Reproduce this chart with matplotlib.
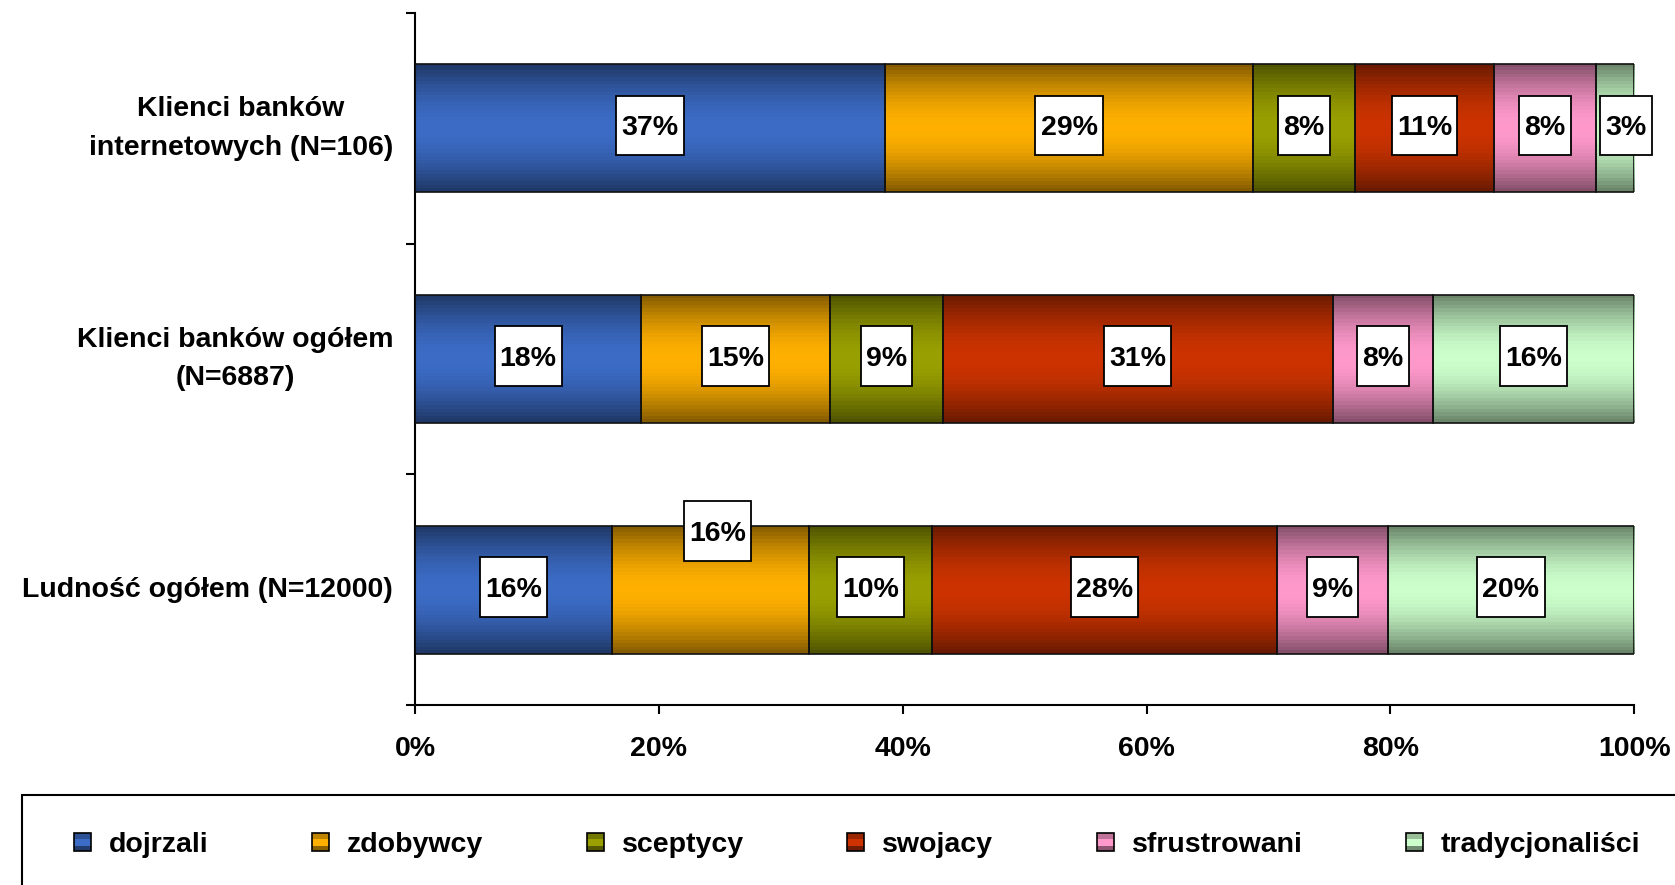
import numpy as np
import matplotlib
matplotlib.use("Agg")
import matplotlib.pyplot as plt
import matplotlib.colors as mcolors
from matplotlib.patches import Rectangle, Patch
from matplotlib.path import Path
from matplotlib.legend_handler import HandlerBase

plt.rcParams['font.family'] = ['Liberation Sans', 'DejaVu Sans']
plt.rcParams['font.weight'] = 'bold'

# ---- data -------------------------------------------------------------
groups = [
    "Klienci banków\ninternetowych (N=106)",
    "Klienci banków ogółem\n(N=6887)",
    "Ludność ogółem (N=12000)",
]
segments = ["dojrzali", "zdobywcy", "sceptycy", "swojacy", "sfrustrowani", "tradycjonaliści"]
dojrzali = [37, 18, 16]
zdobywcy = [29, 15, 16]
sceptycy = [8, 9, 10]
swojacy = [11, 31, 28]
sfrustrowani = [8, 8, 9]
tradycjonalisci = [3, 16, 20]
x_ticks = [0, 20, 40, 60, 80, 100]
x_tick_labels = ["0%", "20%", "40%", "60%", "80%", "100%"]

# ---- styling ----------------------------------------------------------
colors = ["#3C6CC6", "#FFB000", "#99A000", "#CC3300", "#FF99CC", "#CCFFCC"]
FS = 20.5
BAR_H = 0.555
# a couple of labels sit off-centre so they do not crowd neighbours
label_offsets = {(2, 1): (5, 40), (0, 5): (8, 0)}

values = np.array([dojrzali, zdobywcy, sceptycy, swojacy, sfrustrowani, tradycjonalisci], dtype=float)
shares = values / values.sum(axis=0) * 100.0  # percent-stacked

fig = plt.figure(figsize=(16.75, 8.85), dpi=100)
ax = fig.add_axes([0.2478, 0.2034, 0.7278, 0.7819])

ypos = np.arange(len(groups))
left = np.zeros(len(groups))
all_bars = []
for k, name in enumerate(segments):
    bars = ax.barh(ypos, shares[k], left=left, height=BAR_H,
                   facecolor="none", edgecolor="#111111", linewidth=1.2,
                   zorder=3, label=name)
    all_bars.append(bars)
    left = left + shares[k]

# vertical shading: darker towards the top and bottom edges of every bar
n_bands = 36
t = (np.arange(n_bands) + 0.5) / n_bands
shade = 0.5 + 0.5 * np.sin(np.pi * t)
for k, bars in enumerate(all_bars):
    base = np.array(mcolors.to_rgb(colors[k]))
    grad = (shade[:, None] * base[None, :])[:, None, :]
    for p in bars.patches:
        x0, y0 = p.get_x(), p.get_y()
        w, h = p.get_width(), p.get_height()
        im = ax.imshow(grad, extent=(x0, x0 + w, y0, y0 + h), origin="lower",
                       aspect="auto", interpolation="nearest", zorder=2)
        im.set_clip_path(p)


def label_box(x0, y0, width, height, mutation_size):
    px = 0.18 * mutation_size
    half = 1.05 * mutation_size
    cy = y0 + height / 2 + 0.1 * mutation_size
    xa, xb = x0 - px, x0 + width + px
    ya, yb = cy - half, cy + half
    return Path([(xa, ya), (xb, ya), (xb, yb), (xa, yb), (xa, ya)], closed=True)


for k, bars in enumerate(all_bars):
    for i, p in enumerate(bars.patches):
        cx = p.get_x() + p.get_width() / 2
        cy = p.get_y() + p.get_height() / 2
        dx, dy = label_offsets.get((i, k), (0, 0))
        ax.annotate(f"{values[k, i]:.0f}%", xy=(cx, cy), xytext=(dx, dy),
                    textcoords="offset points", ha="center", va="center",
                    fontsize=FS, fontweight="bold", zorder=5,
                    bbox=dict(boxstyle=label_box, facecolor="white",
                              edgecolor="black", linewidth=1.3))

ax.set_xlim(0, 100)
ax.set_ylim(len(groups) - 0.5, -0.5)
ax.set_xticks(x_ticks)
ax.set_xticklabels(x_tick_labels, fontsize=FS, fontweight="bold")
ax.set_yticks(ypos)
ax.set_yticklabels(groups, fontsize=FS, fontweight="bold", linespacing=1.62,
                   multialignment="center")
for lab in ax.get_yticklabels():
    lab.set_verticalalignment("center")
ax.set_yticks(np.arange(len(groups) + 1) - 0.5, minor=True)
ax.tick_params(axis="y", which="major", length=0, pad=15.8)
ax.tick_params(axis="y", which="minor", length=6.5, width=1.5, direction="out")
ax.tick_params(axis="x", which="major", length=6.5, width=1.5, direction="out", pad=16)
for s in ("top", "right"):
    ax.spines[s].set_visible(False)
for s in ("left", "bottom"):
    ax.spines[s].set_linewidth(1.5)
    ax.spines[s].set_color("black")


class BandedSwatch(HandlerBase):
    def create_artists(self, legend, orig_handle, xdescent, ydescent,
                       width, height, fontsize, trans):
        base = np.array(mcolors.to_rgb(orig_handle.get_facecolor()))
        bands = [(0.0, 0.3, 0.75), (0.3, 0.4, 1.0), (0.7, 0.3, 0.55)]
        arts = []
        for start, frac, sh in bands:
            arts.append(Rectangle((-xdescent, -ydescent + (1 - start - frac) * height),
                                  width, frac * height, facecolor=base * sh,
                                  edgecolor="none", transform=trans))
        arts.append(Rectangle((-xdescent, -ydescent), width, height, fill=False,
                              edgecolor="black", linewidth=1.2, transform=trans))
        return arts


handles = [Patch(facecolor=c, label=n) for c, n in zip(colors, segments)]
fig.legend(handles=handles, loc="center left", bbox_to_anchor=(0.0442, 0.0450),
           ncol=len(segments), frameon=False, borderpad=0, borderaxespad=0,
           handlelength=0.6, handleheight=0.6, handletextpad=0.63,
           columnspacing=3.63, prop=dict(size=FS, weight="bold"),
           handler_map={Patch: BandedSwatch()})
fig.add_artist(Rectangle((0.0131, -0.05), 1.1, 0.1516, transform=fig.transFigure,
                         fill=False, edgecolor="black", linewidth=1.5))

fig.savefig("out.png", dpi=100)
